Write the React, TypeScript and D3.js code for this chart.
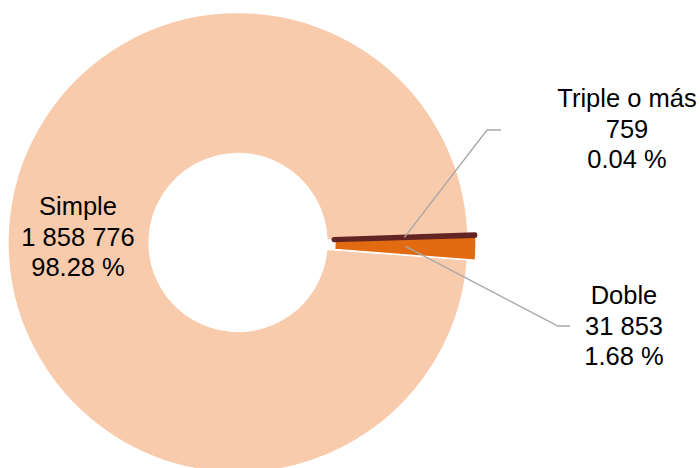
import React from "react";
import * as d3 from "d3";

// ---- data ----
const categories = ["Simple", "Doble", "Triple o más"];
const values = [1858776, 31853, 759];
const colors = ["#F8CBAD", "#E26B12", "#632523"];
// clockwise drawing order starting at the first slice angle
const drawOrder = [2, 1, 0];

// ---- layout ----
const W = 700;
const H = 468;
const cx = 238;
const cy = 242.5;
const outerR = 230;
const innerR = 89;
const startDeg = 88.15;
const explode = [0, 8, 7];
const labelX = [78, 624, 627];
const labelY = [215, 304, 107];
const lineGap = 30.7;
// leader elbows (elbow x, elbow y, end x) per category, null = no leader
const leaders: ([number, number, number] | null)[] = [null, [558, 326, 570], [487, 130, 501]];

const locale = d3.formatLocale({ decimal: ".", thousands: " ", grouping: [3], currency: ["", ""] });
const fmtInt = locale.format(",");
const fmtPct = d3.format(".2f");

export default function App() {
  const total = d3.sum(values);
  const start = (startDeg * Math.PI) / 180;
  const pie = d3
    .pie<number>()
    .sort(null)
    .value((i) => values[i])
    .startAngle(start)
    .endAngle(start + 2 * Math.PI);
  const arcs = pie(drawOrder);
  const arcGen = d3.arc<d3.PieArcDatum<number>>().innerRadius(innerR).outerRadius(outerR);

  const offsetOf = (a: d3.PieArcDatum<number>) => {
    const mid = (a.startAngle + a.endAngle) / 2;
    const e = explode[a.data];
    return [Math.sin(mid) * e, -Math.cos(mid) * e];
  };

  // draw Simple first, then Doble, then Triple on top
  const sorted = [...arcs].sort((a, b) => a.data - b.data);

  return (
    <div style={{ position: "absolute", left: 0, top: 0 }}>
      <svg width={W} height={H} style={{ display: "block" }} fontFamily="'Liberation Sans', Arial, sans-serif">
        <rect width={W} height={H} fill="#ffffff" />
        <g transform={`translate(${cx},${cy})`}>
          {sorted.map((a) => {
            const [dx, dy] = offsetOf(a);
            const i = a.data;
            const isTiny = i === 2;
            return (
              <path
                key={categories[i]}
                d={arcGen(a) || ""}
                transform={`translate(${dx},${dy})`}
                fill={colors[i]}
                stroke={isTiny ? colors[i] : "#ffffff"}
                strokeWidth={isTiny ? 5 : 1.3}
                strokeLinejoin="round"
              />
            );
          })}
        </g>
        {arcs.map((a) => {
          const i = a.data;
          const L = leaders[i];
          if (!L) return null;
          const [dx, dy] = offsetOf(a);
          const [px, py] = arcGen.centroid(a);
          const x0 = cx + px + dx;
          const y0 = cy + py + dy;
          return (
            <polyline
              key={"l" + i}
              points={`${x0},${y0} ${L[0]},${L[1]} ${L[2]},${L[1]}`}
              fill="none"
              stroke="#A6A6A6"
              strokeWidth={1.3}
            />
          );
        })}
        {categories.map((c, i) => {
          const lines = [c, fmtInt(values[i]), fmtPct((values[i] / total) * 100) + " %"];
          return (
            <text key={"t" + i} textAnchor="middle" fontSize={25.5} fill="#000000">
              {lines.map((s, k) => (
                <tspan key={k} x={labelX[i]} y={labelY[i] + k * lineGap}>
                  {s}
                </tspan>
              ))}
            </text>
          );
        })}
      </svg>
    </div>
  );
}
